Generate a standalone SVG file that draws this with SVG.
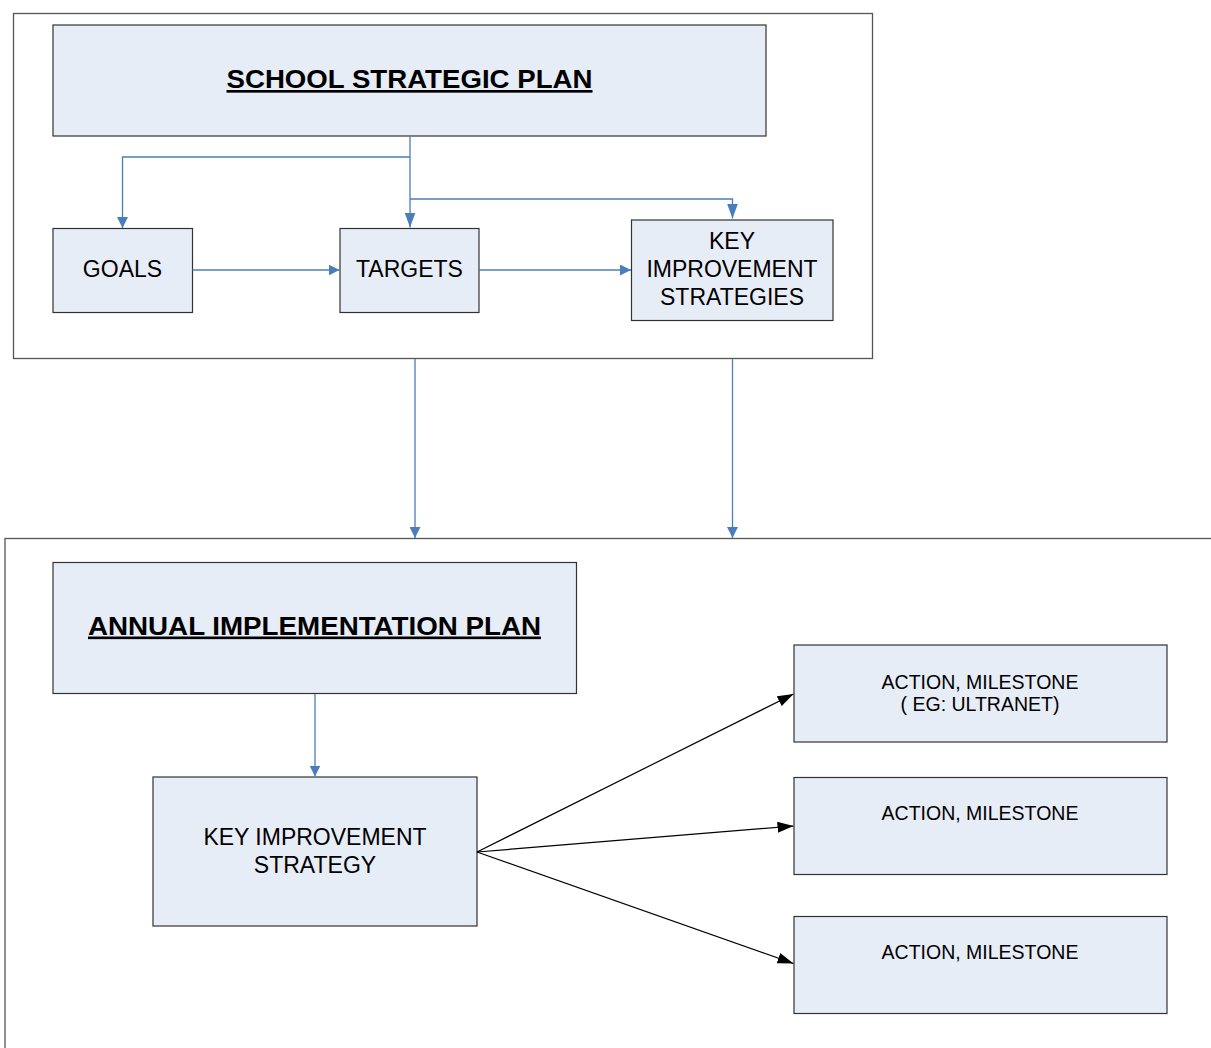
<svg xmlns="http://www.w3.org/2000/svg" width="1211" height="1048" viewBox="0 0 1211 1048">
<style>
.frame{fill:#ffffff;stroke:#555555;stroke-width:1.3}
.box{fill:#e7edf7;stroke:#333333;stroke-width:1.2}
.t{font-family:"Liberation Sans",Arial,sans-serif;font-size:23px;fill:#000;text-anchor:middle}
.s{font-family:"Liberation Sans",Arial,sans-serif;font-size:19.5px;fill:#000;text-anchor:middle}
.title{font-family:"Liberation Sans",Arial,sans-serif;font-size:26.5px;font-weight:bold;fill:#000;text-anchor:middle;text-decoration:underline}
.blue{fill:none;stroke:#4a7ebb;stroke-width:1.3}
.black{fill:none;stroke:#000;stroke-width:1.2}
</style>
<defs>
<marker id="ab" markerUnits="userSpaceOnUse" markerWidth="11" markerHeight="11" refX="11" refY="5.5" orient="auto" viewBox="0 0 11 11">
<path d="M0,0 L11,5.5 L0,11 z" fill="#4a7ebb"/>
</marker>
<marker id="abl" markerUnits="userSpaceOnUse" markerWidth="15" markerHeight="11" refX="15" refY="5.5" orient="auto" viewBox="0 0 15 11">
<path d="M0,0 L15,5.5 L0,11 z" fill="#4a7ebb"/>
</marker>
<marker id="ak" markerUnits="userSpaceOnUse" markerWidth="16" markerHeight="11" refX="16" refY="5.5" orient="auto" viewBox="0 0 16 11">
<path d="M0,0 L16,5.5 L0,11 z" fill="#000"/>
</marker>
</defs>
<rect width="1211" height="1048" fill="#ffffff"/>
<g id="frame-ssp"><rect class="frame" x="13.5" y="13.5" width="859" height="345"/></g>
<g id="frame-aip"><rect class="frame" x="5" y="538.5" width="1230" height="530"/></g>

<g id="ssp"><rect class="box" x="53" y="25" width="713" height="111"/>
<text class="title" x="409.5" y="88" textLength="366" lengthAdjust="spacingAndGlyphs">SCHOOL STRATEGIC PLAN</text></g>
<g id="goals"><rect class="box" x="53" y="228.5" width="139.5" height="84"/>
<text class="t" x="122.5" y="277">GOALS</text></g>
<g id="targets"><rect class="box" x="340" y="228.5" width="139" height="84"/>
<text class="t" x="409.5" y="277">TARGETS</text></g>
<g id="kis"><rect class="box" x="631.5" y="220" width="201.5" height="100.5"/>
<text class="t" x="732" y="249">KEY</text>
<text class="t" x="732" y="277">IMPROVEMENT</text>
<text class="t" x="732" y="305">STRATEGIES</text></g>

<g id="aip"><rect class="box" x="53" y="562.5" width="523.5" height="131"/>
<text class="title" x="314.5" y="634.5" textLength="453" lengthAdjust="spacingAndGlyphs">ANNUAL IMPLEMENTATION PLAN</text></g>
<g id="kis2"><rect class="box" x="153" y="777" width="324" height="149"/>
<text class="t" x="315" y="845">KEY IMPROVEMENT</text>
<text class="t" x="315" y="873">STRATEGY</text></g>
<g id="action1"><rect class="box" x="794" y="645" width="373" height="97"/>
<text class="s" x="980" y="688.5">ACTION, MILESTONE</text>
<text class="s" x="980" y="711">( EG: ULTRANET)</text></g>
<g id="action2"><rect class="box" x="794" y="777.5" width="373" height="97"/>
<text class="s" x="980" y="820">ACTION, MILESTONE</text></g>
<g id="action3"><rect class="box" x="794" y="916.5" width="373" height="97"/>
<text class="s" x="980" y="958.5">ACTION, MILESTONE</text></g>

<g id="connectors">
<path class="blue" d="M410,136 V227.5" marker-end="url(#abl)"/>
<path class="blue" d="M410,157 H122.5 V228" marker-end="url(#ab)"/>
<path class="blue" d="M410,199 H732.5 V218.5" marker-end="url(#abl)"/>
<path class="blue" d="M192.5,270 H339.5" marker-end="url(#ab)"/>
<path class="blue" d="M479,270 H631" marker-end="url(#ab)"/>
<path class="blue" d="M415,359 V538" marker-end="url(#ab)"/>
<path class="blue" d="M732.5,359 V538" marker-end="url(#ab)"/>
<path class="blue" d="M315,694 V776.5" marker-end="url(#ab)"/>
<path class="black" d="M477,852 L793.5,694" marker-end="url(#ak)"/>
<path class="black" d="M477,852 L793.5,826" marker-end="url(#ak)"/>
<path class="black" d="M477,852 L793.5,963.5" marker-end="url(#ak)"/>
</g>
</svg>
